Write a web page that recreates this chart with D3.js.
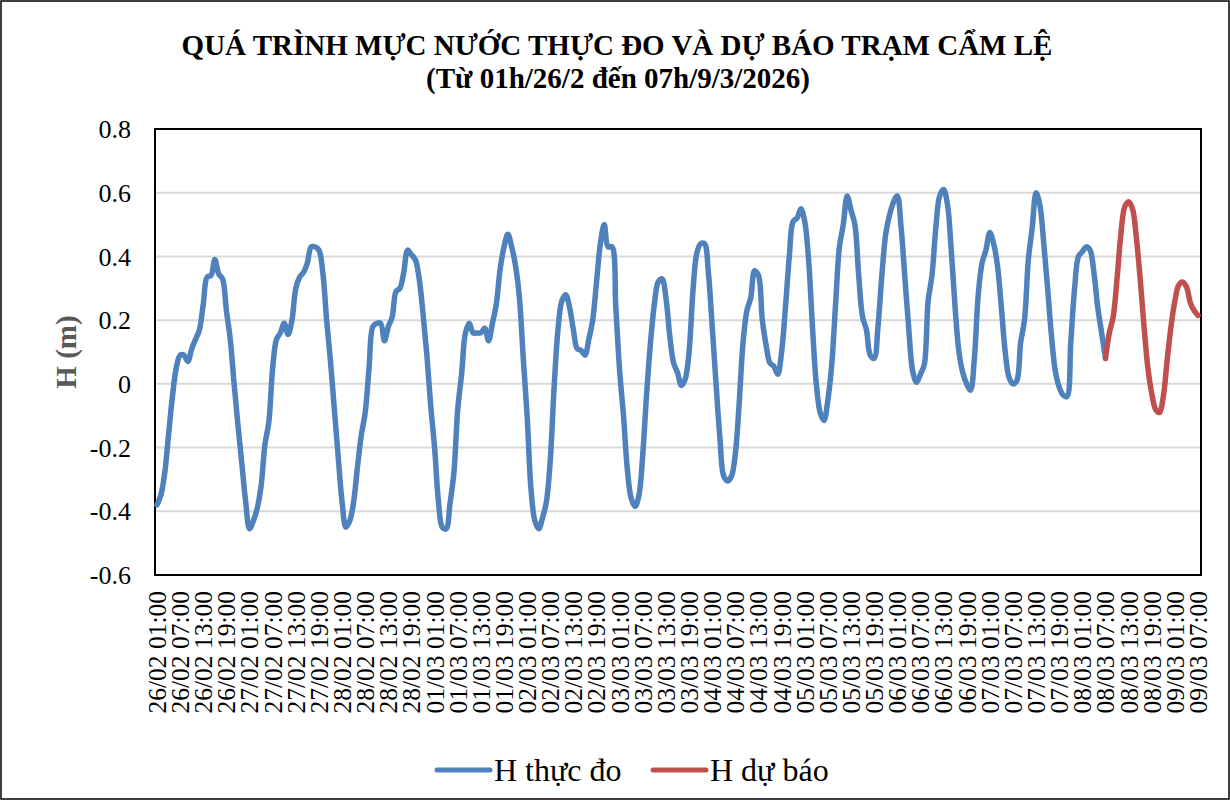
<!DOCTYPE html>
<html lang="vi">
<head>
<meta charset="UTF-8" />
<title>Mực nước Cẩm Lệ</title>
<style>
  * { margin: 0; padding: 0; box-sizing: border-box; }
  body { background: #fff; }
  svg { display: block; }
  text { font-family: 'Liberation Serif', 'Times New Roman', serif; }
  .grid line { stroke: #d9d9d9; stroke-width: 2; }
  .tick-y { font-size: 26px; fill: #000; }
  .tick-x { font-size: 25.5px; fill: #000; }
</style>
</head>
<body>
<svg id="chart" width="1230" height="800"></svg>
<script src="https://cdn.jsdelivr.net/npm/d3@7/dist/d3.min.js"></script>
<script>
// hourly levels (m), starting 26/02 01:00
const measured = [
  -0.38,-0.35,-0.28,-0.16,-0.04,0.05,0.09,0.09,0.07,0.11,0.14,0.17,
  0.25,0.335,0.34,0.39,0.345,0.33,0.23,0.14,0.0,-0.13,-0.25,-0.37,
  -0.455,-0.43,-0.39,-0.32,-0.19,-0.12,0.05,0.14,0.16,0.19,0.155,0.2,
  0.30,0.335,0.35,0.38,0.43,0.43,0.42,0.35,0.2,0.07,-0.08,-0.23,
  -0.37,-0.45,-0.43,-0.37,-0.26,-0.16,-0.09,0.05,0.18,0.19,0.19,0.135,
  0.18,0.21,0.29,0.30,0.35,0.42,0.405,0.39,0.33,0.22,0.09,-0.07,
  -0.2,-0.37,-0.45,-0.455,-0.375,-0.28,-0.08,0.03,0.16,0.19,0.16,0.16,
  0.16,0.175,0.135,0.19,0.25,0.36,0.43,0.47,0.43,0.37,0.27,0.08,
  -0.1,-0.33,-0.43,-0.455,-0.42,-0.37,-0.24,-0.01,0.17,0.26,0.28,0.24,
  0.17,0.11,0.105,0.09,0.14,0.2,0.32,0.44,0.5,0.43,0.43,0.24,
  0.04,-0.1,-0.27,-0.36,-0.385,-0.35,-0.22,-0.03,0.13,0.25,0.32,0.33,
  0.27,0.15,0.065,0.035,-0.005,0.015,0.1,0.29,0.41,0.44,0.44,0.35,
  0.18,0.0,-0.17,-0.29,-0.305,-0.29,-0.22,-0.06,0.13,0.23,0.27,0.355,
  0.34,0.2,0.12,0.065,0.055,0.03,0.1,0.24,0.4,0.51,0.52,0.55,
  0.51,0.39,0.18,0.0,-0.09,-0.115,-0.05,0.06,0.25,0.43,0.5,0.59,
  0.545,0.5,0.34,0.21,0.17,0.09,0.08,0.18,0.34,0.47,0.53,0.57,
  0.59,0.49,0.33,0.17,0.04,0.005,0.03,0.06,0.26,0.34,0.49,0.59,
  0.61,0.565,0.42,0.24,0.1,0.035,0.0,-0.02,0.08,0.28,0.38,0.42,
  0.475,0.44,0.37,0.24,0.1,0.02,0.0,0.01,0.13,0.2,0.39,0.49,
  0.6,0.56,0.44,0.3,0.15,0.04,-0.01,-0.035,-0.04,0.13,0.3,0.4,
  0.415,0.43,0.42,0.35,0.24,0.16,0.08
];
// forecast, starting 08/03 07:00
const forecast = [
  0.08,0.16,0.21,0.33,0.47,0.556,0.572,0.55,0.46,0.33,0.18,0.05,
  -0.03,-0.08,-0.09,-0.04,0.075,0.18,0.26,0.31,0.32,0.305,0.255,0.23,0.215
];
const forecastStart = 246;   // hour index
const totalHours = 270;
const yTicks = [-0.6, -0.4, -0.2, 0, 0.2, 0.4, 0.6, 0.8];
const startTime = new Date(2026, 1, 26, 1);
const seriesNames = ['H thực đo', 'H dự báo'];
const colors = ['#4f81bd', '#c0504d'];

const FONT = "'Liberation Serif', 'Times New Roman', serif";
const svg = d3.select('#chart');
const W = 1230, H = 800;
const m = { left: 157, right: 1198, top: 129, bottom: 575 };

svg.append('rect').attr('width', W).attr('height', H).attr('fill', '#fff');
svg.append('rect')
  .attr('x', 1).attr('y', 1).attr('width', W - 2).attr('height', H - 2)
  .attr('fill', 'none').attr('stroke', '#000').attr('stroke-width', 1.5);

const x = d3.scaleTime()
  .domain([startTime, d3.timeHour.offset(startTime, totalHours)])
  .range([m.left, m.right]);
const y = d3.scaleLinear().domain([-0.6, 0.8]).range([m.bottom, m.top]);

// gridlines
svg.append('g').attr('class', 'grid')
  .selectAll('line').data(yTicks.slice(1, -1)).join('line')
  .attr('x1', m.left - 2).attr('x2', m.right + 3)
  .attr('y1', d => y(d)).attr('y2', d => y(d));

// frame
svg.append('rect')
  .attr('x', m.left - 2).attr('y', m.top).attr('width', m.right - m.left + 5).attr('height', m.bottom - m.top)
  .attr('fill', 'none').attr('stroke', '#000').attr('stroke-width', 2);

// y axis labels (plain hyphen like Excel)
svg.append('g').attr('font-family', FONT)
  .selectAll('text').data(yTicks).join('text')
  .attr('class', 'tick-y')
  .attr('x', 131).attr('y', d => y(d)).attr('dy', '0.35em')
  .attr('text-anchor', 'end')
  .text(d => String(+d.toFixed(1)));

// x axis labels every 6 hours
const fmt = d3.timeFormat('%d/%m %H:%M');
const xTicks = d3.range(0, totalHours + 1, 6).map(h => d3.timeHour.offset(startTime, h));
svg.append('g').attr('font-family', FONT)
  .selectAll('text').data(xTicks).join('text')
  .attr('class', 'tick-x')
  .attr('transform', d => `translate(${x(d)},591) rotate(-90)`)
  .attr('dy', '0.35em')
  .attr('text-anchor', 'end')
  .text(fmt);

// lines
const line = d3.line()
  .x(d => x(d.t)).y(d => y(d.v))
  .curve(d3.curveCatmullRom.alpha(0.5));

const obs = measured.map((v, i) => ({ t: d3.timeHour.offset(startTime, i), v }));
const fc = forecast.map((v, i) => ({ t: d3.timeHour.offset(startTime, forecastStart + i), v }));

svg.append('path').datum(obs).attr('d', line)
  .attr('fill', 'none').attr('stroke', colors[0]).attr('stroke-width', 5.5)
  .attr('stroke-linejoin', 'round').attr('stroke-linecap', 'round');
svg.append('path').datum(fc).attr('d', line)
  .attr('fill', 'none').attr('stroke', colors[1]).attr('stroke-width', 5.5)
  .attr('stroke-linejoin', 'round').attr('stroke-linecap', 'round');

// title
svg.append('text').attr('x', 617).attr('y', 55).attr('text-anchor', 'middle')
  .attr('font-family', FONT).attr('font-size', 29).attr('font-weight', 'bold')
  .text('QUÁ TRÌNH MỰC NƯỚC THỰC ĐO VÀ DỰ BÁO TRẠM CẨM LỆ');
svg.append('text').attr('x', 618).attr('y', 88).attr('text-anchor', 'middle')
  .attr('font-family', FONT).attr('font-size', 29).attr('font-weight', 'bold')
  .text('(Từ 01h/26/2 đến 07h/9/3/2026)');

// y axis title
svg.append('text')
  .attr('transform', 'translate(66,352) rotate(-90)')
  .attr('dy', '0.35em').attr('text-anchor', 'middle')
  .attr('font-family', FONT).attr('font-size', 29).attr('font-weight', 'bold').attr('fill', '#595959')
  .text('H (m)');

// legend
const legendX = [437, 653];
const legend = svg.append('g').selectAll('g').data(seriesNames).join('g')
  .attr('transform', (d, i) => `translate(${legendX[i]},770)`);
legend.append('line')
  .attr('x1', 0).attr('x2', 53).attr('y1', 0).attr('y2', 0)
  .attr('stroke', (d, i) => colors[i]).attr('stroke-width', 5).attr('stroke-linecap', 'round');
legend.append('text')
  .attr('x', 57).attr('dy', '0.35em')
  .attr('font-family', FONT).attr('font-size', 32)
  .text(d => d);
</script>
</body>
</html>
